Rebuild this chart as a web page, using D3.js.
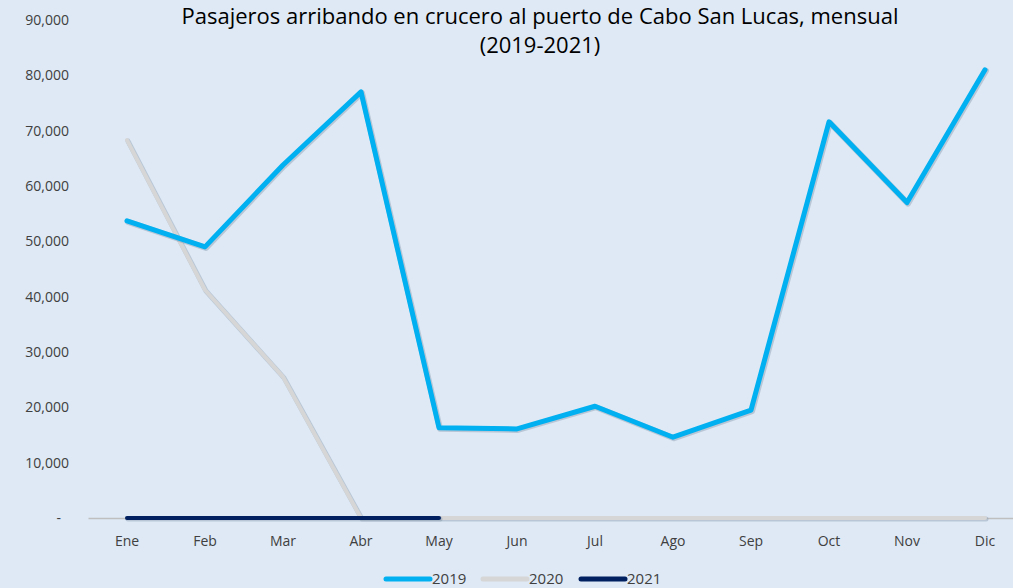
<!DOCTYPE html>
<html>
<head>
<meta charset="utf-8">
<script src="https://cdn.jsdelivr.net/npm/d3@7"></script>
<style>
    body { margin: 0; background: #dee9f5; }
    svg { display: block; }
</style>
</head>
<body>
<div class="vis-chart"></div>
<script>
const months = ['Ene', 'Feb', 'Mar', 'Abr', 'May', 'Jun', 'Jul', 'Ago', 'Sep', 'Oct', 'Nov', 'Dic']
const years = ['2019', '2020', '2021']
const values2019 = [53700, 49000, 63800, 77000, 16300, 16100, 20200, 14600, 19500, 71600, 57000, 81000]
const values2020 = [68300, 41200, 25500, 0, 0, 0, 0, 0, 0, 0, 0, 0]
const values2021 = [0, 0, 0, 0, 0]
const yTicks = [0, 10000, 20000, 30000, 40000, 50000, 60000, 70000, 80000, 90000]
const titleLines = ['Pasajeros arribando en crucero al puerto de Cabo San Lucas, mensual', '(2019-2021)']

const colors = { '2019': '#00b0f0', '2020': '#d6d6d6', '2021': '#002060' }

const width = 1013, height = 588
const dimensions = { left: 88, right: 1024, top: 20, bottom: 518 }

let visChart = d3.select('.vis-chart').append('svg')
    .attr('width', width)
    .attr('height', height)
    .style('background-color', '#dee9f5')
    .style('font-family', "'Open Sans', sans-serif")

let xScale = d3.scaleBand()
    .domain(months)
    .range([dimensions.left, dimensions.right])

let yScale = d3.scaleLinear()
    .domain([0, 90000])
    .range([dimensions.bottom, dimensions.top])

// title
visChart.selectAll('.title')
    .data(titleLines)
    .enter().append('text')
    .attr('class', 'title')
    .attr('x', 540)
    .attr('y', (d, i) => 24 + i * 29)
    .attr('text-anchor', 'middle')
    .style('font-size', '22px')
    .style('fill', '#000')
    .text(d => d)

// y axis labels
let yAxis = d3.axisLeft(yScale)
    .tickValues(yTicks)
    .tickSize(0)
    .tickPadding(0)
    .tickFormat(d => d === 0 ? '-' : d3.format(',')(d))

let yG = visChart.append('g')
    .attr('transform', 'translate(69,0)')
    .call(yAxis)
yG.select('.domain').remove()
yG.selectAll('text')
    .style('font-size', '14px')
    .style('font-family', "'Open Sans', sans-serif")
    .style('fill', '#404040')
yG.selectAll('.tick').filter(d => d === 0).select('text')
    .attr('x', -8)

// x axis
let xAxis = d3.axisBottom(xScale).tickSize(0).tickPadding(18)
let xG = visChart.append('g')
    .attr('transform', 'translate(0,' + dimensions.bottom + ')')
    .call(xAxis)
xG.select('.domain')
    .attr('stroke', '#bfbfbf')
    .attr('stroke-width', 1.5)
xG.selectAll('text')
    .style('font-size', '14px')
    .style('font-family', "'Open Sans', sans-serif")
    .style('fill', '#404040')

const line = d3.line()
    .x((d, i) => xScale(months[i]) + xScale.bandwidth() / 2)
    .y(d => yScale(d))

function drawSeries(values, color, w) {
    // soft shadow underneath, like the original
    visChart.append('path')
        .datum(values)
        .attr('d', line)
        .attr('fill', 'none')
        .attr('stroke', '#8a9bb0')
        .attr('stroke-opacity', 0.45)
        .attr('stroke-width', w + 1)
        .attr('stroke-linejoin', 'round')
        .attr('stroke-linecap', 'round')
        .attr('transform', 'translate(1,1)')
    visChart.append('path')
        .datum(values)
        .attr('d', line)
        .attr('fill', 'none')
        .attr('stroke', color)
        .attr('stroke-width', w)
        .attr('stroke-linejoin', 'round')
        .attr('stroke-linecap', 'round')
}

drawSeries(values2020, colors['2020'], 4)
drawSeries(values2021, colors['2021'], 4)
drawSeries(values2019, colors['2019'], 5)

// legend
const legendX = [386, 483, 581]
let legend = visChart.selectAll('.legend')
    .data(years)
    .enter().append('g')
    .attr('class', 'legend')
    .attr('transform', (d, i) => 'translate(' + legendX[i] + ',579)')
legend.append('line')
    .attr('x1', 0).attr('x2', 44)
    .attr('stroke', d => colors[d])
    .attr('stroke-width', 5)
    .attr('stroke-linecap', 'round')
legend.append('text')
    .attr('x', 46)
    .attr('y', 5)
    .style('font-size', '15px')
    .style('fill', '#404040')
    .text(d => d)
</script>
</body>
</html>
